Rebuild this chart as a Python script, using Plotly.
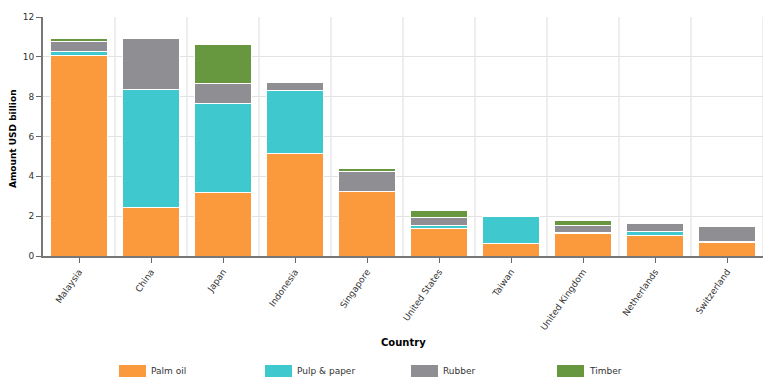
import plotly.graph_objects as go

countries = ["Malaysia", "China", "Japan", "Indonesia", "Singapore",
             "United States", "Taiwan", "United Kingdom", "Netherlands", "Switzerland"]
palm_oil = [10.08, 2.42, 3.19, 5.15, 3.24, 1.39, 0.64, 1.14, 1.02, 0.69]
pulp_paper = [0.17, 5.94, 4.47, 3.18, 0.02, 0.13, 1.32, 0.02, 0.20, 0.04]
rubber = [0.53, 2.54, 1.00, 0.40, 0.99, 0.42, 0.01, 0.39, 0.40, 0.74]
timber = [0.14, 0.00, 1.96, 0.05, 0.15, 0.32, 0.00, 0.25, 0.07, 0.02]
y_ticks = [0, 2, 4, 6, 8, 10, 12]

series = [
    ("Palm oil", palm_oil, "#FA9A3C"),
    ("Pulp & paper", pulp_paper, "#3FC8CE"),
    ("Rubber", rubber, "#8F8F93"),
    ("Timber", timber, "#67983F"),
]

FONT = "DejaVu Sans, Verdana, sans-serif"
W, H = 768, 384
L, R, T, B = 43, 5, 17, 128
pw = W - L - R
ph = H - T - B

def px2x(px):
    return (px - L) / pw

def py2y(py):
    return (H - B - py) / ph

fig = go.Figure()
for name, vals, col in series:
    fig.add_trace(go.Bar(
        x=countries, y=vals, name=name,
        marker=dict(color=col, line=dict(color="white", width=1)),
        showlegend=False,
    ))

shapes = []
# vertical grid lines at category boundaries
for i in range(len(countries)):
    shapes.append(dict(type="line", xref="x", yref="paper", x0=i + 0.5, x1=i + 0.5,
                       y0=0, y1=1, line=dict(color="#DDDDDD", width=1), layer="below"))

annotations = []
# manual legend
leg_x0 = 119
step = 146
for k, (name, vals, col) in enumerate(series):
    sx = leg_x0 + k * step
    shapes.append(dict(type="rect", xref="paper", yref="paper",
                       x0=px2x(sx), x1=px2x(sx + 27), y0=py2y(377), y1=py2y(365),
                       fillcolor=col, line=dict(width=0)))
    annotations.append(dict(text=name, xref="paper", yref="paper", x=px2x(sx + 30), y=py2y(371),
                            xanchor="left", yanchor="middle", showarrow=False,
                            font=dict(family=FONT, size=9, color="#333333")))

annotations.append(dict(text="<b>Country</b>", xref="paper", yref="paper", x=px2x(403), y=py2y(342),
                        xanchor="center", yanchor="middle", showarrow=False,
                        font=dict(family=FONT, size=10, color="#000000")))
annotations.append(dict(text="<b>Amount USD billion</b>", xref="paper", yref="paper", x=px2x(13), y=py2y(139),
                        xanchor="center", yanchor="middle", showarrow=False, textangle=-90,
                        font=dict(family=FONT, size=9, color="#000000")))

fig.update_layout(
    width=W, height=H,
    margin=dict(l=L, r=R, t=T, b=B),
    barmode="stack", bargap=0.21,
    plot_bgcolor="white", paper_bgcolor="white",
    font=dict(family=FONT, size=9, color="#333333"),
    shapes=shapes, annotations=annotations,
    xaxis=dict(type="category", categoryorder="array", categoryarray=countries,
               range=[-0.5, len(countries) - 0.5],
               tickangle=-55, ticks="outside", ticklen=5, tickcolor="#666666",
               showline=True, linecolor="#777777", linewidth=2, showgrid=False,
               automargin=False,
               tickfont=dict(family=FONT, size=9, color="#333333")),
    yaxis=dict(range=[0, 12], tickvals=y_ticks, ticks="outside", ticklen=5, tickcolor="#666666",
               showline=True, linecolor="#777777", linewidth=2,
               gridcolor="#E3E3E3", gridwidth=1, zeroline=False, automargin=False,
               tickfont=dict(family=FONT, size=9, color="#333333")),
)

fig.write_html("out.html", config={"displayModeBar": False},
               post_script="document.body.style.margin='0';document.body.style.padding='0';")
